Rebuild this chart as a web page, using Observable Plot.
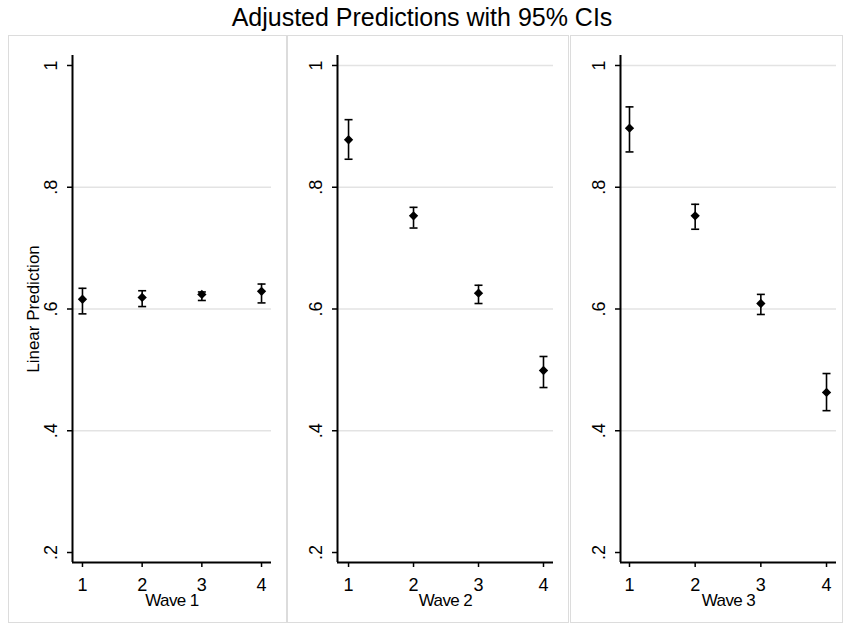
<!DOCTYPE html>
<html><head><meta charset="utf-8">
<script src="https://cdn.jsdelivr.net/npm/d3@7"></script>
<script src="https://cdn.jsdelivr.net/npm/@observablehq/plot@0.6"></script>
<style>
body{margin:0;background:#fff;width:844px;height:625px;position:relative;overflow:hidden;font-family:"Liberation Sans",Arial,sans-serif;}
#title{position:absolute;left:0;width:844px;top:5px;text-align:center;font-size:25px;line-height:24px;color:#000;white-space:nowrap;}
.panel{position:absolute;}
.box{position:absolute;border:1px solid #dcdcdc;box-sizing:border-box;pointer-events:none;}
</style></head><body>
<div id="title">Adjusted Predictions with 95% CIs</div>
<script>
// ---- data ----
const categories = [1, 2, 3, 4];
const xTickLabels = ["1", "2", "3", "4"];
const yTicks = [0.2, 0.4, 0.6, 0.8, 1];
const yTickLabels = [".2", ".4", ".6", ".8", "1"];
const panelTitles = ["Wave 1", "Wave 2", "Wave 3"];
const yAxisTitle = "Linear Prediction";

const wave1Est = [0.616, 0.619, 0.624, 0.629];
const wave1Lo  = [0.592, 0.604, 0.614, 0.610];
const wave1Hi  = [0.634, 0.630, 0.628, 0.641];

const wave2Est = [0.878, 0.753, 0.626, 0.499];
const wave2Lo  = [0.846, 0.733, 0.609, 0.471];
const wave2Hi  = [0.911, 0.767, 0.639, 0.522];

const wave3Est = [0.897, 0.753, 0.609, 0.463];
const wave3Lo  = [0.858, 0.731, 0.591, 0.433];
const wave3Hi  = [0.932, 0.772, 0.624, 0.494];

const wave1Grid = [0.4, 0.6, 0.8];
const wave2Grid = [0.4, 0.6, 0.8, 1];
const wave3Grid = [0.4, 0.6, 0.8, 1];

// ---- layout ----
const yDomain = [0.1836, 1.0164];
const panelTop = 35, panelHeight = 588;
const layouts = [
  {left: 8,   width: 279, marginLeft: 64, marginRight: 16, xDomain: [0.833, 4.167]},
  {left: 287, width: 282, marginLeft: 50, marginRight: 16, xDomain: [0.83, 4.154]},
  {left: 570, width: 273, marginLeft: 50, marginRight: 7,  xDomain: [0.863, 4.152]}
];

const capSymbol = {
  draw(context, size) {
    const w = Math.sqrt(size / Math.PI);
    context.moveTo(-w, 0);
    context.lineTo(w, 0);
  }
};

function makePanel(i, est, lo, hi, grid) {
  const L = layouts[i];
  const rows = categories.map((c, j) => ({x: c, est: est[j], lo: lo[j], hi: hi[j]}));
  const marks = [
    Plot.ruleY(grid, {stroke: "#e3e3e3", strokeWidth: 1.5}),
    Plot.axisX({ticks: categories, tickFormat: d => xTickLabels[categories.indexOf(d)],
      tickSize: 5, tickPadding: 11, strokeWidth: 1.5, label: null}),
    Plot.axisY({ticks: yTicks, tickFormat: d => yTickLabels[yTicks.indexOf(d)],
      tickSize: 5, tickPadding: 11, tickRotate: -90, strokeWidth: 1.5, label: null}),
    Plot.ruleX([L.xDomain[0]], {stroke: "#000", strokeWidth: 2}),
    Plot.ruleY([yDomain[0]], {stroke: "#000", strokeWidth: 2}),
    Plot.ruleX(rows, {x: "x", y1: "lo", y2: "hi", stroke: "#000", strokeWidth: 1.6}),
    Plot.dot(rows, {x: "x", y: "lo", symbol: capSymbol, r: 4, stroke: "#000", fill: "none", strokeWidth: 1.6}),
    Plot.dot(rows, {x: "x", y: "hi", symbol: capSymbol, r: 4, stroke: "#000", fill: "none", strokeWidth: 1.6}),
    Plot.dot(rows, {x: "x", y: "est", symbol: "diamond2", r: 4.2, fill: "#000", stroke: "none"}),
    Plot.text([panelTitles[i]], {text: d => d, frameAnchor: "bottom", lineAnchor: "bottom", dy: 43, fontSize: 17})
  ];
  if (i === 0) {
    marks.push(Plot.text([yAxisTitle], {text: d => d, frameAnchor: "left", rotate: -90,
      textAnchor: "middle", lineAnchor: "bottom", dx: -34, fontSize: 17}));
  }
  const chart = Plot.plot({
    width: L.width, height: panelHeight,
    marginLeft: L.marginLeft, marginRight: L.marginRight, marginTop: 20, marginBottom: 61,
    x: {domain: L.xDomain},
    y: {domain: yDomain},
    style: {fontFamily: "'Liberation Sans', Arial, sans-serif", fontSize: "18px", background: "transparent", color: "#000", overflow: "visible"},
    marks
  });
  d3.select(chart).selectAll("text")
    .filter(function () { return this.textContent === panelTitles[i]; })
    .attr("letter-spacing", "-0.6px");
  const wrap = document.createElement("div");
  wrap.className = "panel";
  wrap.style.left = L.left + "px";
  wrap.style.top = panelTop + "px";
  wrap.appendChild(chart);
  document.body.appendChild(wrap);
  const box = document.createElement("div");
  box.className = "box";
  box.style.left = L.left + "px";
  box.style.top = panelTop + "px";
  box.style.width = L.width + "px";
  box.style.height = panelHeight + "px";
  document.body.appendChild(box);
}

makePanel(0, wave1Est, wave1Lo, wave1Hi, wave1Grid);
makePanel(1, wave2Est, wave2Lo, wave2Hi, wave2Grid);
makePanel(2, wave3Est, wave3Lo, wave3Hi, wave3Grid);
</script>
</body></html>
